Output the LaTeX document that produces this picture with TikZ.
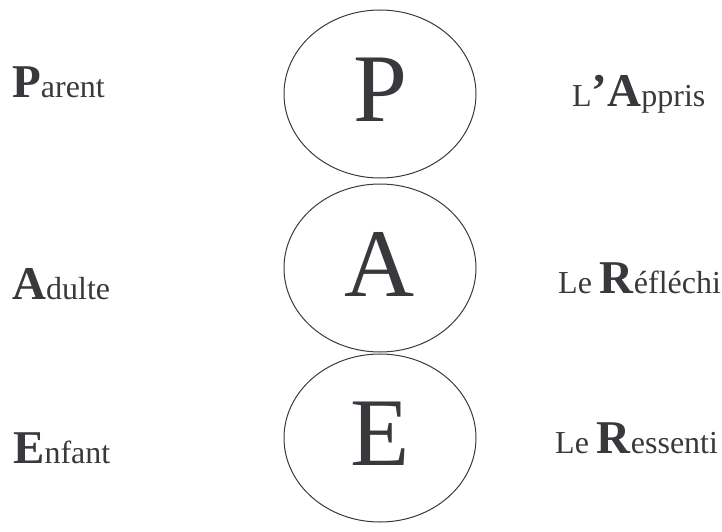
\documentclass[tikz,border=0pt]{standalone}
\usepackage{fontspec}
\setmainfont{Liberation Serif}
\usepackage{xcolor}
\usetikzlibrary{positioning,shapes.geometric}

\definecolor{ink}{RGB}{57,57,61}
\newcommand{\lettre}[1]{{\fontsize{47}{56}\selectfont\bfseries #1}}

\begin{document}
\begin{tikzpicture}[
  x=1pt, y=1pt,
  color=ink,
  font=\fontsize{32}{38}\selectfont,
  etat/.style={draw=ink, line width=1pt, ellipse, minimum width=192pt, minimum height=168pt,
    inner sep=0pt, text depth=8pt, font=\fontsize{97}{110}\selectfont},
  mot/.style={anchor=base west, inner sep=0pt}
]
\useasboundingbox (0,0) rectangle (722,531);

% les trois etats du moi
\node[etat] (parent) at (380,437) {P};
\node[etat, below=5pt of parent] (adulte) {A};
\node[etat, below=1pt of adulte] (enfant) {E};

% a gauche
\node[mot] (gp) at (12,433) {\lettre{P}arent};
\node[mot] (ga) at (12,232) {\lettre{A}dulte};
\node[mot] (ge) at (13,68) {\lettre{E}nfant};

% a droite
\node[mot] (dp) at (572,424) {L\lettre{’A}ppris};
\node[mot] (da) at (558,238) {Le \lettre{R}éfléchi};
\node[mot] (de) at (555,78) {Le \lettre{R}essenti};
\end{tikzpicture}
\end{document}
